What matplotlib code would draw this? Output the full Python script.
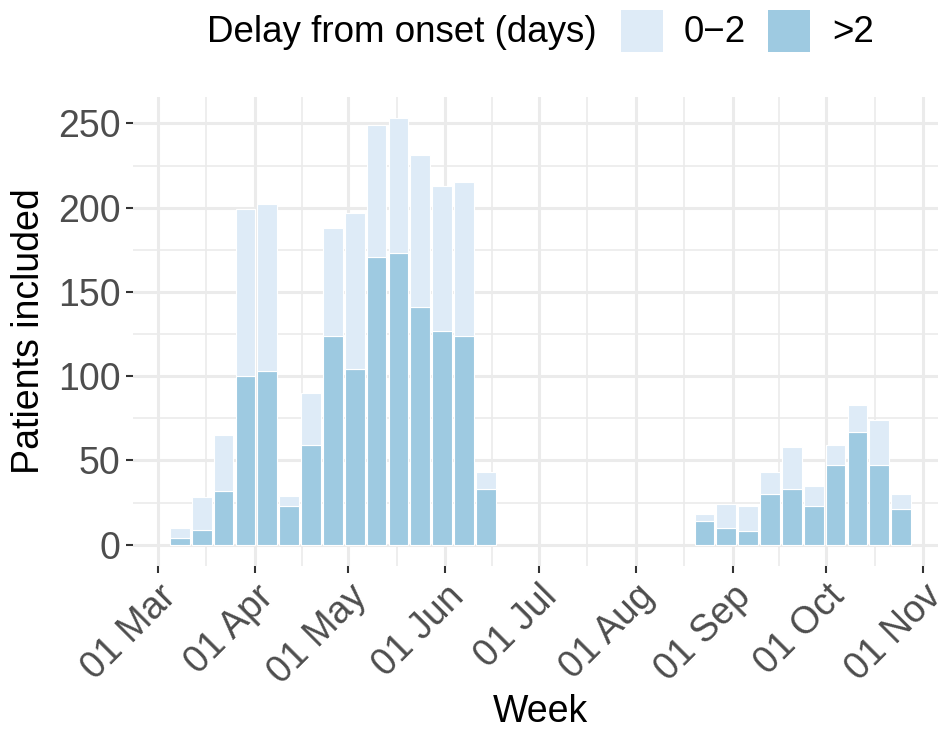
import datetime as dt

import matplotlib
matplotlib.use("Agg")
import matplotlib.pyplot as plt
import matplotlib.dates as mdates
from matplotlib.patches import Rectangle

plt.rcParams["font.family"] = ["Liberation Sans", "DejaVu Sans"]

# semaines (debut de semaine)
weeks = ["2020-03-08", "2020-03-15", "2020-03-22", "2020-03-29", "2020-04-05",
         "2020-04-12", "2020-04-19", "2020-04-26", "2020-05-03", "2020-05-10",
         "2020-05-17", "2020-05-24", "2020-05-31", "2020-06-07", "2020-06-14",
         "2020-08-23", "2020-08-30", "2020-09-06", "2020-09-13", "2020-09-20",
         "2020-09-27", "2020-10-04", "2020-10-11", "2020-10-18", "2020-10-25"]
# patients avec delai > 2 jours
late = [4, 9, 32, 100, 103, 23, 59, 124, 104, 171, 173, 141, 127, 124, 33,
        14, 10, 8, 30, 33, 23, 47, 67, 47, 21]
# patients avec delai 0-2 jours
early = [6, 19, 33, 99, 99, 6, 31, 64, 93, 78, 80, 90, 86, 91, 10,
         4, 14, 15, 13, 25, 12, 12, 16, 27, 9]

legend_title = "Delay from onset (days)"
labels = ["0\u22122", ">2"]
colors = ["#DEEBF7", "#9ECAE1"]

W, H = 938, 732
fig = plt.figure(figsize=(W / 100, H / 100), dpi=100)
# le panneau depasse un peu a droite (comme l'original, coupe)
ax = fig.add_axes([133 / W, (H - 566) / H, (948 - 133) / W, (566 - 97) / H])

x = [dt.datetime.strptime(w, "%Y-%m-%d") for w in weeks]
ax.bar(x, late, width=6.3, color=colors[1], edgecolor="white", linewidth=0.8, zorder=3)
ax.bar(x, early, width=6.3, bottom=late, color=colors[0], edgecolor="white",
       linewidth=0.8, zorder=3)

ax.set_xlim(dt.datetime(2020, 2, 22), dt.datetime(2020, 11, 9))
ax.set_ylim(-12.65, 265.65)

months = [dt.datetime(2020, m, 1) for m in range(3, 12)]
ax.set_xticks(months)
ax.xaxis.set_major_formatter(mdates.DateFormatter("%d %b"))
mids = [months[i] + (months[i + 1] - months[i]) / 2 for i in range(len(months) - 1)]
ax.set_xticks(mids, minor=True)
ax.set_yticks(range(0, 251, 50))
ax.set_yticks(range(25, 251, 50), minor=True)

ax.grid(which="major", color="#EBEBEB", linewidth=2.2, zorder=0)
ax.grid(which="minor", color="#EBEBEB", linewidth=1.2, zorder=0)
for s in ax.spines.values():
    s.set_visible(False)

ax.tick_params(which="major", length=5, width=1.5, color="#333333",
               labelcolor="#4D4D4D", labelsize=27, pad=4)
ax.tick_params(which="minor", length=0)
for lab in ax.get_xticklabels():
    lab.set_rotation(45)
    lab.set_ha("right")
    lab.set_rotation_mode("anchor")

ax.set_xlabel("Week", fontsize=27, labelpad=2)
ax.set_ylabel("Patients included", fontsize=27, labelpad=8)

# legende en haut, horizontale
fig.text(207 / W, 1 - 33 / H, legend_title, fontsize=26.5, ha="left", va="center")
for i, (lab, col) in enumerate(zip(labels, colors)):
    x0 = [621, 768][i]
    fig.patches.append(Rectangle((x0 / W, 1 - 52 / H), 42 / W, 42 / H,
                                 transform=fig.transFigure, facecolor=col,
                                 edgecolor="none"))
    fig.text([684, 832][i] / W, 1 - 33 / H, lab, fontsize=26.5, ha="left", va="center")

fig.savefig("out.png", dpi=100)
